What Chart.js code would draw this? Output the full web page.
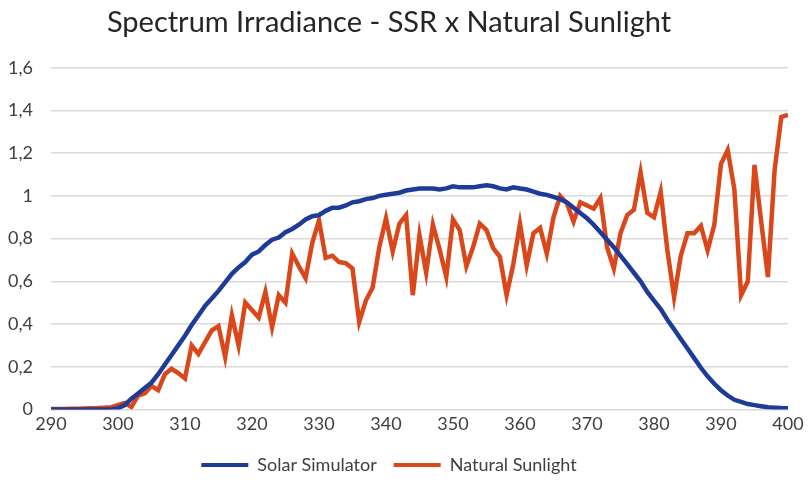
<!DOCTYPE html>
<html>
<head>
<meta charset="utf-8">
<title>Spectrum Irradiance - SSR x Natural Sunlight</title>
<script src="https://cdn.jsdelivr.net/npm/chart.js@4/dist/chart.umd.min.js"></script>
<style>
    html, body { margin: 0; padding: 0; background: #ffffff; }
    #wrap { width: 810px; height: 495px; position: relative; }
</style>
</head>
<body>
<div id="wrap"><canvas id="myChart"></canvas></div>
<script>
// wavelength in nm, one point per nm
const wavelengths = [];
for (let w = 290; w <= 400; w++) wavelengths.push(w);

const solarSimulator = [
    0, 0, 0, 0, 0, 0, 0, 0, 0, 0,
    0.005, 0.02, 0.05, 0.075, 0.10, 0.125, 0.165, 0.21, 0.255, 0.30,
    0.345, 0.395, 0.44, 0.485, 0.52, 0.555, 0.595, 0.635, 0.665, 0.69,
    0.725, 0.74, 0.77, 0.795, 0.805, 0.83, 0.845, 0.865, 0.89, 0.905,
    0.91, 0.93, 0.945, 0.945, 0.955, 0.97, 0.975, 0.985, 0.99, 1.0,
    1.005, 1.01, 1.015, 1.025, 1.03, 1.035, 1.035, 1.035, 1.03, 1.035,
    1.045, 1.04, 1.04, 1.04, 1.045, 1.05, 1.045, 1.035, 1.03, 1.04,
    1.035, 1.03, 1.02, 1.01, 1.005, 0.995, 0.985, 0.97, 0.945, 0.92,
    0.895, 0.865, 0.83, 0.795, 0.76, 0.72, 0.68, 0.64, 0.60, 0.55,
    0.51, 0.47, 0.42, 0.375, 0.33, 0.285, 0.24, 0.195, 0.155, 0.12,
    0.09, 0.065, 0.045, 0.035, 0.025, 0.02, 0.015, 0.01, 0.008, 0.006,
    0.005
];

const naturalSunlight = [
    0.002, 0.002, 0.002, 0.003, 0.003, 0.004, 0.005, 0.006, 0.008, 0.01,
    0.02, 0.03, 0.012, 0.065, 0.075, 0.11, 0.09, 0.165, 0.19, 0.17,
    0.145, 0.30, 0.26, 0.315, 0.37, 0.39, 0.245, 0.44, 0.30, 0.50,
    0.465, 0.43, 0.55, 0.385, 0.535, 0.50, 0.73, 0.67, 0.615, 0.78,
    0.885, 0.71, 0.72, 0.69, 0.685, 0.66, 0.41, 0.51, 0.57, 0.76,
    0.895, 0.74, 0.87, 0.91, 0.535, 0.815, 0.64, 0.865, 0.75, 0.62,
    0.89, 0.84, 0.67, 0.76, 0.87, 0.84, 0.755, 0.715, 0.535, 0.68,
    0.87, 0.675, 0.825, 0.85, 0.73, 0.90, 1.0, 0.965, 0.88, 0.97,
    0.955, 0.94, 0.99, 0.76, 0.66, 0.825, 0.91, 0.935, 1.11, 0.92,
    0.90, 1.02, 0.745, 0.525, 0.72, 0.825, 0.825, 0.86, 0.745, 0.865,
    1.15, 1.215, 1.03, 0.535, 0.60, 1.145, 0.88, 0.62, 1.12, 1.37,
    1.38
];

const xTicks = { min: 290, max: 400, step: 10 };
const yTicks = { min: 0, max: 1.6, step: 0.2 };

const BLUE = '#1f3b98';
const ORANGE = '#d9471a';
const TEXT = '#404040';
const FONT = 'Lato, "Open Sans", sans-serif';

function toPoints(values) {
    return values.map((v, i) => ({ x: wavelengths[i], y: v }));
}

function formatComma(value) {
    return String(Number(value.toFixed(1))).replace('.', ',');
}

function legendLabels(chart) {
    const items = Chart.defaults.plugins.legend.labels.generateLabels(chart);
    items.forEach(item => {
        item.lineWidth = 0;
        item.fillStyle = item.strokeStyle;
    });
    return items;
}

const ctx = document.getElementById('myChart').getContext('2d');
new Chart(ctx, {
    type: 'line',
    data: {
        datasets: [
            {
                label: 'Solar Simulator',
                data: toPoints(solarSimulator),
                borderColor: BLUE,
                backgroundColor: BLUE,
                borderWidth: 4.5,
                pointRadius: 0,
                tension: 0,
            },
            {
                label: 'Natural Sunlight',
                data: toPoints(naturalSunlight),
                borderColor: ORANGE,
                backgroundColor: ORANGE,
                borderWidth: 4.5,
                pointRadius: 0,
                tension: 0,
            }
        ]
    },
    options: {
        responsive: true,
        maintainAspectRatio: false,
        animation: false,
        layout: { padding: { left: -10, right: 22, top: 4, bottom: 11 } },
        plugins: {
            title: {
                display: true,
                text: 'Spectrum Irradiance - SSR x Natural Sunlight',
                color: '#262626',
                font: { family: FONT, size: 29, weight: 'normal' },
                padding: { top: 1, bottom: 28 },
            },
            legend: {
                position: 'bottom',
                labels: {
                    color: TEXT,
                    font: { family: FONT, size: 18 },
                    boxWidth: 47,
                    boxHeight: 4,
                    padding: 17,
                    generateLabels: legendLabels,
                },
            },
            tooltip: { enabled: false },
        },
        scales: {
            x: {
                type: 'linear',
                min: xTicks.min,
                max: xTicks.max,
                grid: { display: false, drawTicks: false },
                border: { display: false },
                ticks: {
                    stepSize: xTicks.step,
                    color: TEXT,
                    padding: 4,
                    font: { family: FONT, size: 18 },
                },
            },
            y: {
                min: yTicks.min,
                max: yTicks.max,
                grid: { color: '#d9d9d9', lineWidth: 1.5, drawTicks: false },
                border: { display: false },
                ticks: {
                    stepSize: yTicks.step,
                    color: TEXT,
                    padding: 18,
                    font: { family: FONT, size: 18 },
                    callback: value => formatComma(value),
                },
            }
        }
    }
});
</script>
</body>
</html>
